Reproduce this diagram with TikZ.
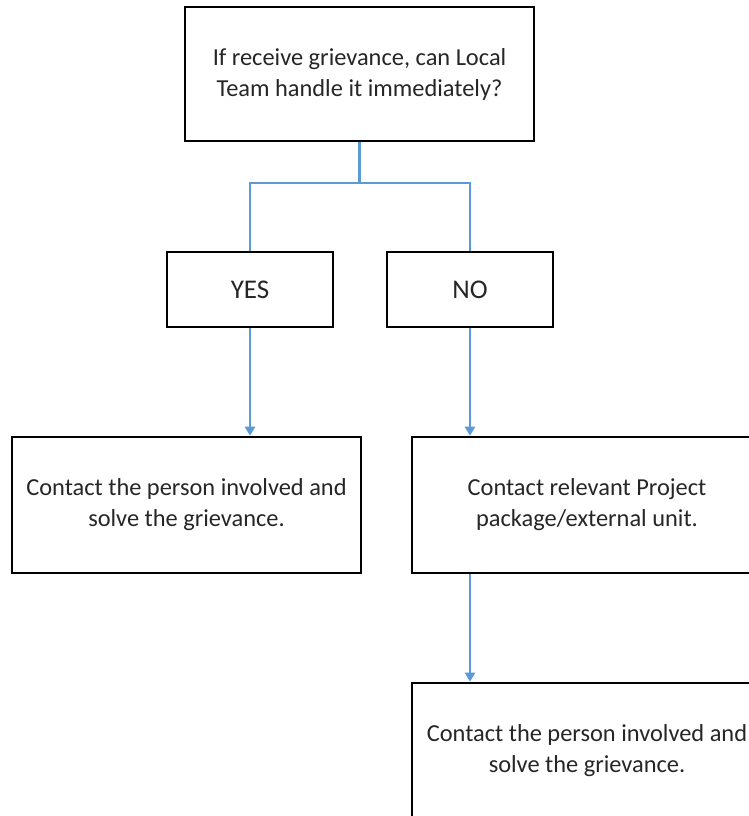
\documentclass[tikz,border=0pt]{standalone}
\usepackage{fontspec}
\setmainfont{Carlito}
\usepackage{tikz}
\usetikzlibrary{arrows.meta}
\definecolor{flowblue}{RGB}{91,155,213}
\def\drawflow{\draw[color=flowblue, line width=1.1pt]}
\def\flowbox{\node[draw=black,line width=1.3pt,fill=white,text=black!85,align=center,inner sep=0pt,font=\fontsize{12.2}{15.5}\selectfont]}

\begin{document}
\begin{tikzpicture}[x=0.5pt,y=-0.5pt,>={Triangle[length=4.5pt,width=5pt]}]
\useasboundingbox (0,0) rectangle (749,816);
\flowbox[minimum width=174.5pt,minimum height=67pt] (top) at (359.5,74) {If receive grievance, can Local\\Team handle it immediately?};
\flowbox[minimum width=83pt,minimum height=37.5pt,font=\fontsize{13.5}{16}\selectfont] (yes) at (250,289.5) {YES};
\flowbox[minimum width=83pt,minimum height=37.5pt,font=\fontsize{13.5}{16}\selectfont] (no) at (470,289.5) {NO};
\flowbox[minimum width=174.5pt,minimum height=68pt] (solveA) at (186.5,505) {Contact the person involved and\\solve the grievance.};
\flowbox[minimum width=175pt,minimum height=68pt] (contact) at (587,505) {Contact relevant Project\\package/external unit.};
\flowbox[minimum width=175pt,minimum height=68pt] (solveB) at (587,751) {Contact the person involved and\\solve the grievance.};
\coordinate (split) at (359.5,183);
\drawflow (top) -- (split);
\drawflow (split) -| (yes);
\drawflow (split) -| (no);
\drawflow[->] (yes) -- (yes |- solveA.north);
\drawflow[->] (no) -- (no |- contact.north);
\drawflow[->] (contact.south -| no) -- (solveB.north -| no);
\end{tikzpicture}
\end{document}
